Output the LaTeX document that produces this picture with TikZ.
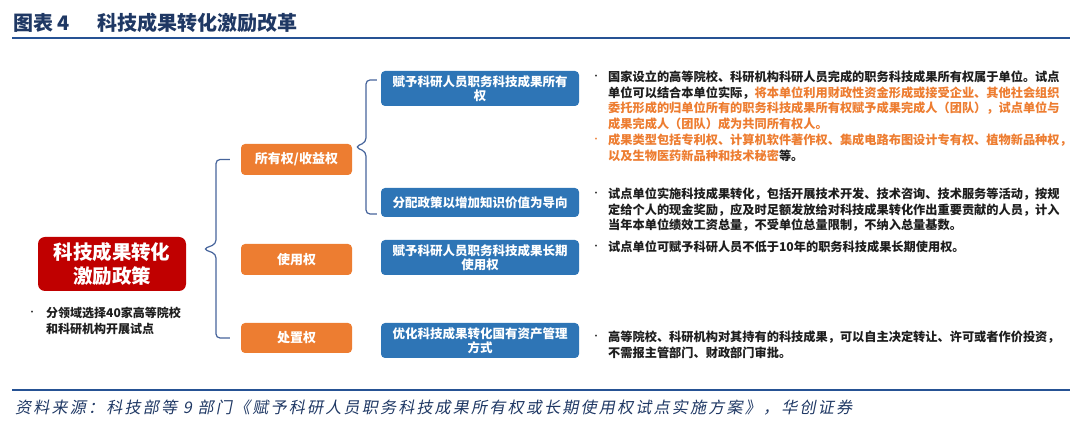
\documentclass[tikz,border=0pt]{standalone}
\usepackage{fontspec}
\setmainfont{Noto Sans CJK SC}
\newfontfamily\srcfont[FakeSlant=0.2,LetterSpace=14]{Noto Sans CJK SC}
\usetikzlibrary{calc}
\definecolor{navy}{RGB}{31,56,100}
\definecolor{lineblue}{RGB}{38,82,148}
\definecolor{redbg}{RGB}{192,0,0}
\definecolor{orng}{RGB}{237,125,49}
\definecolor{bluebg}{RGB}{46,117,182}
\definecolor{bracecol}{RGB}{70,100,155}
\definecolor{ink}{RGB}{30,30,30}
\tikzset{
  boxbase/.style={rounded corners=4pt, text=white, align=center, inner sep=0pt},
  redbox/.style={boxbase, fill=redbg, rounded corners=7pt, minimum width=148pt, minimum height=54pt,
                 font=\fontsize{19.5}{24}\selectfont\bfseries},
  orangebox/.style={boxbase, fill=orng, minimum width=111pt, minimum height=31pt,
                 font=\fontsize{13}{15}\selectfont\bfseries},
  bluebox/.style={boxbase, fill=bluebg, minimum width=198pt, minimum height=35pt,
                 font=\fontsize{12.5}{14.5}\selectfont\bfseries},
  bracepath/.style={draw=bracecol, line width=1.2pt, rounded corners=4pt},
  rtxt/.style={anchor=north west, inner sep=0pt, align=left, text=ink,
                 font=\fontsize{12.2}{15.4}\selectfont\bfseries},
  bul/.style={inner sep=0pt, text=ink, font=\fontsize{9}{10}\selectfont},
  rule/.style={draw=lineblue, line width=2pt}
}
\begin{document}
\begin{tikzpicture}[x=1pt,y=-1pt]
\useasboundingbox (0,0) rectangle (1080,435);
% title
\node[anchor=west, inner sep=0pt, text=navy, font=\fontsize{20}{24}\selectfont\bfseries] (tnum) at (13,23) {图表 4};
\node[anchor=west, inner sep=0pt, text=navy, font=\fontsize{20}{24}\selectfont\bfseries] (ttl) at (97,23) {科技成果转化激励改革};
\coordinate (r1a) at (12,38); \coordinate (r1b) at (1070,38);
\draw[rule] (r1a) -- (r1b);
\coordinate (r2a) at (12,390); \coordinate (r2b) at (1070,390);
\draw[rule] (r2a) -- (r2b);
\node[anchor=west, inner sep=0pt, text=navy, font=\srcfont\fontsize{16}{18}\selectfont] (src) at (15,408)
  {资料来源：科技部等 9 部门《赋予科研人员职务科技成果所有权或长期使用权试点实施方案》，华创证券};

% main boxes
\node[redbox] (main) at (112,264) {科技成果转化\\激励政策};
\node[bul] (lb) at (32,313) {•};
\node[rtxt, font=\fontsize{12}{16}\selectfont\bfseries] (ltxt) at (46,307) {分领域选择40家高等院校\\和科研机构开展试点};

\node[orangebox] (own) at (296.5,159.5) {所有权/收益权};
\node[orangebox] (use) at (296.5,259.5) {使用权};
\node[orangebox, minimum height=30pt] (disp) at (296.5,338) {处置权};

\node[bluebox] (b1) at (480,88.5) {赋予科研人员职务科技成果所有\\权};
\node[bluebox, minimum height=29pt] (b2) at (480,202.5) {分配政策以增加知识价值为导向};
\node[bluebox] (b3) at (480,257.5) {赋予科研人员职务科技成果长期\\使用权};
\node[bluebox] (b4) at (480,340.5) {优化科技成果转化国有资产管理\\方式};

% braces
\coordinate (Ltop) at ($(own.west)+(-11,0)$);
\coordinate (Lbot) at ($(disp.west)+(-11,0)$);
\coordinate (Ltip) at ($(main.east)+(17,-15)$);
\draw[bracepath] (Ltop) -- (216,159.5) -- (216,244) -- (Ltip) -- (216,254) -- (216,338) -- (Lbot);
\coordinate (Mtop) at ($(b1.west)+(-4,-8.5)$);
\coordinate (Mbot) at ($(b2.west)+(-4,11.5)$);
\coordinate (Mtip) at ($(own.east)+(3,-12.5)$);
\draw[bracepath] (Mtop) -- (366,80) -- (366,142) -- (Mtip) -- (366,152) -- (366,214) -- (Mbot);

% right texts
\node[bul] (d1) at (596,77) {•};
\node[rtxt] (t1) at (608,71) {国家设立的高等院校、科研机构科研人员完成的职务科技成果所有权属于单位。试点\\
单位可以结合本单位实际，\textcolor{orng}{将本单位利用财政性资金形成或接受企业、其他社会组织}\\
\textcolor{orng}{委托形成的归单位所有的职务科技成果所有权赋予成果完成人（团队），试点单位与}\\
\textcolor{orng}{成果完成人（团队）成为共同所有权人。}};
\node[bul, text=orng] (d2) at (596,140) {•};
\node[rtxt] (t2) at (608,134) {\textcolor{orng}{成果类型包括专利权、计算机软件著作权、集成电路布图设计专有权、植物新品种权，}\\
\textcolor{orng}{以及生物医药新品种和技术秘密}等。};
\node[bul] (d3) at (596,194) {•};
\node[rtxt] (t3) at (608,188) {试点单位实施科技成果转化，包括开展技术开发、技术咨询、技术服务等活动，按规\\
定给个人的现金奖励，应及时足额发放给对科技成果转化作出重要贡献的人员，计入\\
当年本单位绩效工资总量，不受单位总量限制，不纳入总量基数。};
\node[bul] (d4) at (596,247) {•};
\node[rtxt] (t4) at (608,241) {试点单位可赋予科研人员不低于10年的职务科技成果长期使用权。};
\node[bul] (d5) at (596,337) {•};
\node[rtxt] (t5) at (608,331) {高等院校、科研机构对其持有的科技成果，可以自主决定转让、许可或者作价投资，\\
不需报主管部门、财政部门审批。};
\end{tikzpicture}
\end{document}
